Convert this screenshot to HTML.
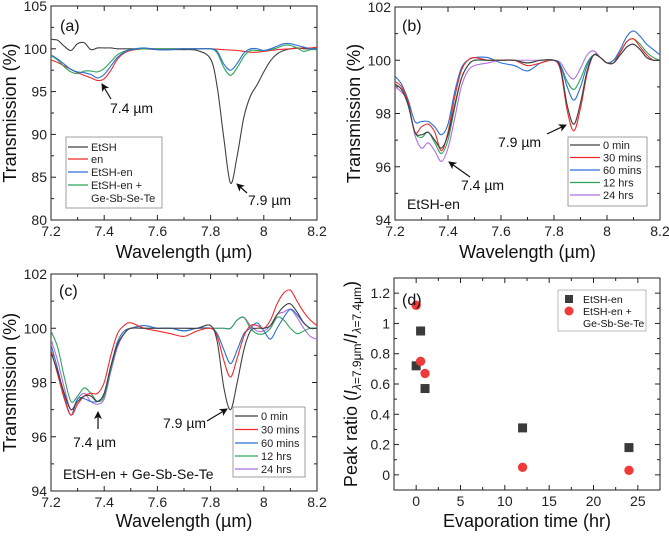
<!DOCTYPE html>
<html><head><meta charset="utf-8"><style>
body{margin:0;background:#fff}
svg{font-family:"Liberation Sans",Arial,sans-serif}
</style></head><body>
<svg id="fig" width="669" height="535" viewBox="0 0 669 535" xmlns="http://www.w3.org/2000/svg"></svg>
<script>
// ---- data ----
const wl = [7.2,7.225,7.25,7.275,7.3,7.325,7.35,7.375,7.4,7.425,7.45,7.475,7.5,7.55,7.6,7.65,7.7,7.75,7.8,7.825,7.85,7.875,7.9,7.925,7.95,7.975,8.0,8.025,8.05,8.075,8.1,8.125,8.15,8.175,8.2];
const xTicksWl = ["7.2","7.4","7.6","7.8","8","8.2"];
// panel a
const aEtSH = [101.1,101.0,100.3,99.8,100.6,100.7,99.9,100.1,100.1,100.1,100.0,100.0,100.0,100.0,99.9,99.9,99.9,99.8,98.8,95.5,89.5,84.3,87.5,92,94.5,95.8,97.3,98.6,99.4,99.8,100.0,100.1,100.0,100.0,100.0];
const aEn = [98.7,98.4,98.0,97.6,97.2,96.9,96.6,96.3,96.5,97.5,98.8,99.5,99.8,100,100,100,100,100,100,99.95,99.9,99.85,99.8,99.7,99.6,99.6,99.7,99.8,99.9,99.95,100,100.05,100.1,100.1,100.2];
const aEtSHen = [99.3,98.8,98.2,97.6,97.3,97.2,97.0,96.6,97.0,98.0,99.0,99.6,99.9,100.1,99.9,99.9,100,100,100,99.7,98.2,97.5,98.3,99.5,100.0,100.0,99.8,100.0,100.3,100.6,100.6,100.4,100.2,100.0,100.0];
const aGSST = [99.2,98.7,97.9,97.3,97.1,97.4,97.4,97.3,97.7,98.5,99.3,99.7,99.9,100,100,100,100,100,100,99.5,97.8,96.9,97.8,99.1,99.8,99.8,99.8,99.9,100.1,100.4,100.4,100.1,99.7,99.9,99.9];
const aYTicks = [80,85,90,95,100,105];
// panel b
const b0 = [99.1,98.9,98.3,97.3,97.2,97.3,97.0,96.7,97.2,98.3,99.3,99.8,100.0,100.0,100.0,100.0,99.9,100.0,100.0,99.7,98.3,97.6,98.4,99.6,100.2,100.1,99.9,99.9,100.2,100.5,100.6,100.4,100.1,100.0,100.0];
const b30 = [99.2,99.0,98.4,97.3,97.5,97.6,97.3,96.6,97.3,98.6,99.6,100.0,100.1,100.0,100.0,100.0,99.8,99.9,100.0,99.6,98.1,97.35,98.2,99.5,100.2,100.1,99.9,99.9,100.3,100.7,100.8,100.5,100.2,100.0,100.0];
const b60 = [99.4,99.1,98.5,97.7,97.7,97.7,97.5,97.2,97.6,98.8,99.7,100.0,100.1,100.1,99.9,99.8,99.6,99.9,100.0,99.8,99.0,98.5,99.0,99.8,100.2,100.1,99.9,100.0,100.4,100.9,101.1,100.9,100.6,100.4,100.2];
const b12h = [99.1,98.9,98.3,97.3,97.1,97.3,96.9,96.5,97.0,98.2,99.3,99.8,100.0,100.0,100.0,100.0,99.9,100.0,100.0,99.8,99.2,98.9,99.3,99.9,100.2,100.1,99.9,100.0,100.3,100.7,100.8,100.6,100.3,100.1,100.0];
const b24h = [99.0,98.8,98.4,97.2,96.7,96.9,96.6,96.2,96.7,97.8,99.0,99.6,99.8,99.9,100.0,100.0,100.0,100.0,100.0,99.9,99.5,99.3,99.7,100.2,100.35,100.1,99.9,100.0,100.2,100.5,100.6,100.4,100.1,100.0,100.0];
// panel c
const c0 = [99.1,98.4,97.6,97.0,97.3,97.5,97.5,97.3,97.6,98.6,99.4,99.8,100.0,100.0,100.0,100.0,100.0,100.0,100.1,99.5,97.8,97.0,98.0,99.2,99.9,100.0,100.0,100.1,100.5,100.8,100.9,100.6,100.2,100.0,100.0];
const c30 = [99.2,98.3,97.4,96.8,97.2,97.5,97.6,97.6,98.0,99.0,99.8,100.1,100.2,100.0,99.9,99.8,99.7,99.9,100.0,99.7,98.8,98.2,98.9,99.7,100.1,100.1,100.0,100.3,100.9,101.3,101.4,101.0,100.6,100.3,100.1];
const c60 = [99.4,98.5,97.5,96.8,97.4,97.4,97.3,97.3,97.6,98.6,99.5,99.9,100.0,100.1,100.0,100.0,99.9,100.0,100.0,99.8,99.2,98.7,99.2,99.8,100.0,100.2,99.9,99.6,100.0,100.4,100.7,100.5,100.2,100.0,100.0];
const c12h = [99.9,99.3,98.2,97.3,97.5,97.8,97.6,97.3,97.5,98.5,99.4,99.8,100.0,100.0,100.0,100.0,99.9,100.0,100.0,100.0,100.0,100.0,100.3,100.4,100.0,99.8,99.8,100.0,100.4,100.3,100.0,99.8,99.9,100.0,100.0];
const c24h = [99.6,98.8,97.8,97.0,97.4,97.6,97.3,97.2,97.4,98.4,99.3,99.8,100.0,100.0,100.0,100.0,100.0,100.0,100.0,100.0,100.0,100.0,100.3,100.4,100.1,99.9,99.9,100.1,100.5,100.6,100.7,100.4,100.0,99.7,99.6];
const bcYTicks = [94,96,98,100,102];
// panel d
const dTime = [0,0.5,1,12,24];
const dEtSHen = [0.72,0.95,0.57,0.31,0.18];
const dGSST = [1.12,0.75,0.67,0.05,0.03];
const dXTicks = [0,5,10,15,20,25];
const dYTicks = [0,0.2,0.4,0.6,0.8,1,1.2];

const NS="http://www.w3.org/2000/svg";
const fig=document.getElementById('fig');
function el(tag,attrs,parent,text){const e=document.createElementNS(NS,tag);for(const k in attrs)e.setAttribute(k,attrs[k]);if(text!==undefined)e.textContent=text;(parent||fig).appendChild(e);return e;}
function scale(d0,d1,r0,r1){return v=>r0+(v-d0)/(d1-d0)*(r1-r0);}
function smoothPath(pts){let d=`M${pts[0][0].toFixed(2)},${pts[0][1].toFixed(2)}`;for(let i=0;i<pts.length-1;i++){const p0=pts[Math.max(0,i-1)],p1=pts[i],p2=pts[i+1],p3=pts[Math.min(pts.length-1,i+2)];const c1=[p1[0]+(p2[0]-p0[0])/6,p1[1]+(p2[1]-p0[1])/6],c2=[p2[0]-(p3[0]-p1[0])/6,p2[1]-(p3[1]-p1[1])/6];d+=`C${c1[0].toFixed(2)},${c1[1].toFixed(2)} ${c2[0].toFixed(2)},${c2[1].toFixed(2)} ${p2[0].toFixed(2)},${p2[1].toFixed(2)}`;}return d;}

function axes(g,L,T,R,B,xs,ys,xt,yt,xMinor,yMinor,name){
  const fr=el('rect',{x:L,y:T,width:R-L,height:B-T,fill:'none',stroke:'#222','stroke-width':1},g);
  
  xt.forEach(t=>{const x=xs(+t);
    el('line',{x1:x,x2:x,y1:B,y2:B-5,stroke:'#222'},g);el('line',{x1:x,x2:x,y1:T,y2:T+5,stroke:'#222'},g);
    const tx=el('text',{x:x,y:B+16,'font-size':14,'text-anchor':'middle',fill:'#222'},g,String(t));
    });
  xMinor.forEach(v=>{const x=xs(v);el('line',{x1:x,x2:x,y1:B,y2:B-3,stroke:'#222'},g);el('line',{x1:x,x2:x,y1:T,y2:T+3,stroke:'#222'},g);});
  yt.forEach(t=>{const y=ys(+t);
    el('line',{x1:L,x2:L+5,y1:y,y2:y,stroke:'#222'},g);el('line',{x1:R,x2:R-5,y1:y,y2:y,stroke:'#222'},g);
    const tx=el('text',{x:L-4,y:y+5,'font-size':14,'text-anchor':'end',fill:'#222'},g,String(t));
    });
  yMinor.forEach(v=>{const y=ys(v);el('line',{x1:L,x2:L+3,y1:y,y2:y,stroke:'#222'},g);el('line',{x1:R,x2:R-3,y1:y,y2:y,stroke:'#222'},g);});
}
function series(g,xs,ys,xv,yv,color,name,L,T,R,B,cid){
  const p=el('path',{d:smoothPath(xv.map((x,i)=>[xs(x),ys(yv[i])])),fill:'none',stroke:color,'stroke-width':1.1,'clip-path':`url(#${cid})`},g);
  
}
function clip(id,L,T,R,B){const d=el('defs',{});const c=el('clipPath',{id:id},d);el('rect',{x:L,y:T,width:R-L,height:B-T},c);}
function arrow(g,x1,y1,x2,y2,name){
  const a=el('line',{x1:x1,y1:y1,x2:x2,y2:y2,stroke:'#111','stroke-width':1.2,'marker-end':'url(#ah)'},g);
  
}
function txt(g,x,y,s,size,name,anchor){const t=el('text',{x:x,y:y,'font-size':size,fill:'#111','text-anchor':anchor||'start'},g,s);return t;}
function legend(g,x,y,w,h,items,lx1,lx2,tx,name){
  const r=el('rect',{x:x,y:y,width:w,height:h,fill:'#fff',stroke:'#888','stroke-width':0.8},g);
  
  items.forEach(it=>{
    el('line',{x1:lx1,x2:lx2,y1:it[2],y2:it[2],stroke:it[1],'stroke-width':1.3},g);
    const t=el('text',{x:tx,y:it[2]+4,'font-size':11,fill:'#222'},g,it[0]);
    
    if(it[3]){const t2=el('text',{x:tx,y:it[2]+17,'font-size':11,fill:'#222'},g,it[3]);}
  });
}
const defs=el('defs',{});
const mk=el('marker',{id:'ah',markerWidth:8,markerHeight:8,refX:7,refY:4,orient:'auto',markerUnits:'userSpaceOnUse'},defs);
el('path',{d:'M0,0 L8,4 L0,8 L2,4 Z',fill:'#111'},mk);

const COL={k:'#404040',r:'#ee2a2a',b:'#2a6fd6',g:'#2ea45a',p:'#b070e0'};
const wlMinor=[7.3,7.5,7.7,7.9,8.1];

// ---- panel a ----
(function(){
  const g=el('g',{});
  const L=51,T=6,R=317,B=220;clip('ca',L,T,R,B);
  const xs=scale(7.2,8.2,L,R),ys=scale(80,105,B,T);
  axes(g,L,T,R,B,xs,ys,xTicksWl,aYTicks,wlMinor,[82.5,87.5,92.5,97.5,102.5],'panel-a');
  series(g,xs,ys,wl,aEtSH,COL.k,'series-etsh',L,T,R,B,'ca');
  series(g,xs,ys,wl,aEn,COL.r,'series-en',L,T,R,B,'ca');
  series(g,xs,ys,wl,aGSST,COL.g,'series-etsh-en-gsst',L,T,R,B,'ca');
  series(g,xs,ys,wl,aEtSHen,COL.b,'series-etsh-en',L,T,R,B,'ca');
  legend(g,66,137,96,71,[['EtSH',COL.k,147],['en',COL.r,159],['EtSH-en',COL.b,172],['EtSH-en +',COL.g,185,'Ge-Sb-Se-Te']],68,88,91,'legend-a');
  txt(g,60,31,'(a)',16,'panel-label-a');
  arrow(g,111,99,102,84,'arrow-7-4');txt(g,110,113,'7.4 µm',14,'annotation-7-4');
  arrow(g,247,193,237,184,'arrow-7-9');txt(g,248,205,'7.9 µm',14,'annotation-7-9');
  txt(g,(L+R)/2,258,'Wavelength (µm)',18,'x-axis-title-a','middle');
  const yt=txt(g,0,0,'Transmission (%)',18,'y-axis-title-a','middle');yt.setAttribute('transform',`translate(16,${(T+B)/2}) rotate(-90)`);
})();

// ---- panel b ----
(function(){
  const g=el('g',{});
  const L=395,T=7,R=660,B=220;clip('cb',L,T,R,B);
  const xs=scale(7.2,8.2,L,R),ys=scale(94,102,B,T);
  axes(g,L,T,R,B,xs,ys,xTicksWl,bcYTicks,wlMinor,[95,97,99,101],'panel-b');
  series(g,xs,ys,wl,b24h,COL.p,'series-24hrs',L,T,R,B,'cb');
  series(g,xs,ys,wl,b12h,COL.g,'series-12hrs',L,T,R,B,'cb');
  series(g,xs,ys,wl,b60,COL.b,'series-60mins',L,T,R,B,'cb');
  series(g,xs,ys,wl,b30,COL.r,'series-30mins',L,T,R,B,'cb');
  series(g,xs,ys,wl,b0,COL.k,'series-0min',L,T,R,B,'cb');
  legend(g,568,137,79,69,[['0 min',COL.k,145],['30 mins',COL.r,157.5],['60 mins',COL.b,170],['12 hrs',COL.g,182.5],['24 hrs',COL.p,195]],570,600,603,'legend-b');
  txt(g,402,31,'(b)',16,'panel-label-b');
  arrow(g,547,134,566,125,'arrow-7-9-b');txt(g,498,147,'7.9 µm',14,'annotation-7-9-b');
  arrow(g,470,177,449,162,'arrow-7-4-b');txt(g,461,190,'7.4 µm',14,'annotation-7-4-b');
  txt(g,407,209,'EtSH-en',14,'sample-label-b');
  txt(g,(L+R)/2,258,'Wavelength (µm)',18,'x-axis-title-b','middle');
  const yt=txt(g,0,0,'Transmission (%)',18,'y-axis-title-b','middle');yt.setAttribute('transform',`translate(360,${(T+B)/2}) rotate(-90)`);
})();

// ---- panel c ----
(function(){
  const g=el('g',{});
  const L=51,T=274,R=317,B=491;clip('cc',L,T,R,B);
  const xs=scale(7.2,8.2,L,R),ys=scale(94,102,B,T);
  axes(g,L,T,R,B,xs,ys,xTicksWl,bcYTicks,wlMinor,[95,97,99,101],'panel-c');
  series(g,xs,ys,wl,c24h,COL.p,'series-24hrs',L,T,R,B,'cc');
  series(g,xs,ys,wl,c12h,COL.g,'series-12hrs',L,T,R,B,'cc');
  series(g,xs,ys,wl,c60,COL.b,'series-60mins',L,T,R,B,'cc');
  series(g,xs,ys,wl,c30,COL.r,'series-30mins',L,T,R,B,'cc');
  series(g,xs,ys,wl,c0,COL.k,'series-0min',L,T,R,B,'cc');
  legend(g,233,407,72,70,[['0 min',COL.k,416],['30 mins',COL.r,429.5],['60 mins',COL.b,443],['12 hrs',COL.g,456],['24 hrs',COL.p,469]],235,258,261,'legend-c');
  txt(g,59,296,'(c)',16,'panel-label-c');
  arrow(g,98,429,98,412,'arrow-7-4-c');txt(g,73,447,'7.4 µm',14,'annotation-7-4-c');
  arrow(g,207,421,227,409,'arrow-7-9-c');txt(g,163,428,'7.9 µm',14,'annotation-7-9-c');
  txt(g,63,479,'EtSH-en + Ge-Sb-Se-Te',14,'sample-label-c');
  txt(g,(L+R)/2,527,'Wavelength (µm)',18,'x-axis-title-c','middle');
  const yt=txt(g,0,0,'Transmission (%)',18,'y-axis-title-c','middle');yt.setAttribute('transform',`translate(16,${(T+B)/2}) rotate(-90)`);
})();

// ---- panel d ----
(function(){
  const g=el('g',{});
  const L=394,T=278,R=660,B=490;
  const xs=scale(-2.5,27.5,L,R),ys=scale(-0.1,1.3,B,T);
  axes(g,L,T,R,B,xs,ys,dXTicks,dYTicks,[2.5,7.5,12.5,17.5,22.5],[0.1,0.3,0.5,0.7,0.9,1.1],'panel-d');
  dTime.forEach((t,i)=>{const s=el('rect',{x:xs(t)-4.5,y:ys(dEtSHen[i])-4.5,width:9,height:9,fill:'#3a3a3a'},g);
    });
  dTime.forEach((t,i)=>{const c=el('circle',{cx:xs(t),cy:ys(dGSST[i]),r:4.7,fill:'#f03a3a'},g);
    });
  const lr=el('rect',{x:558,y:290,width:88,height:41,fill:'#fff',stroke:'#aaa','stroke-width':0.8},g);
  
  el('rect',{x:565,y:295,width:8,height:8,fill:'#3a3a3a'},g);
  el('circle',{cx:569,cy:311,r:4.5,fill:'#f03a3a'},g);
  txt(g,583,303,'EtSH-en',10.5,'legend-entry-etsh-en');
  txt(g,583,315,'EtSH-en +',10.5,'legend-entry-gsst');
  txt(g,583,327,'Ge-Sb-Se-Te',10.5,'legend-entry-gsst-cont');
  txt(g,402,305,'(d)',16,'panel-label-d');
  txt(g,(L+R)/2,527,'Evaporation time (hr)',18,'x-axis-title-d','middle');
  const yt=el('text',{'font-size':18,fill:'#111','text-anchor':'middle',transform:`translate(357,${(T+B)/2}) rotate(-90)`},g);
  
  yt.innerHTML='Peak ratio (<tspan font-style="italic">I</tspan><tspan font-size="12" dy="4"><tspan font-style="italic">λ</tspan>=7.9μm</tspan><tspan dy="-4">/</tspan><tspan font-style="italic">I</tspan><tspan font-size="12" dy="4"><tspan font-style="italic">λ</tspan>=7.4μm</tspan><tspan dy="-4">)</tspan>';
})();
</script>
</body></html>
